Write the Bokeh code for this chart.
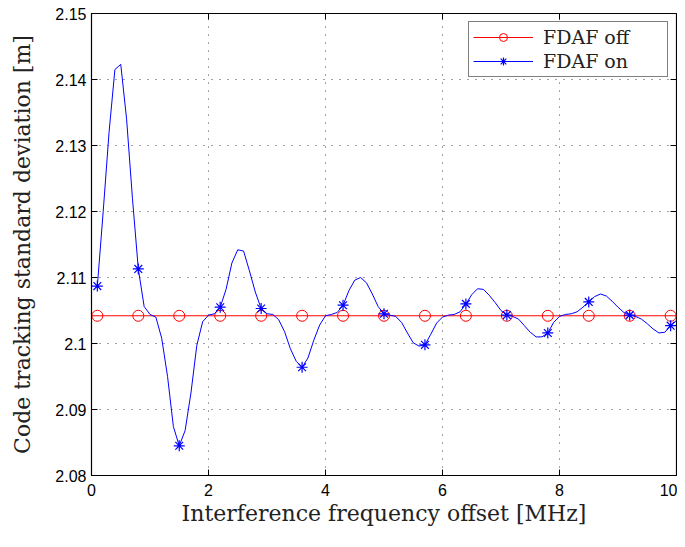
from bokeh.plotting import figure
from bokeh.models import FixedTicker, Range1d, Legend, LegendItem
from bokeh.embed import file_html
from bokeh.resources import INLINE
import math

# ---- data ----
off_freq = [0.0, 10.0]
off_val = [2.1042, 2.1042]
marker_freq = [0.1, 0.8, 1.5, 2.2, 2.9, 3.6, 4.3, 5.0, 5.7, 6.4, 7.1, 7.8, 8.5, 9.2, 9.9]
marker_off_val = [2.1042] * 15

on_freq = [0.1, 0.2, 0.3, 0.4, 0.5, 0.6, 0.7, 0.8, 0.9, 1.0,
           1.1, 1.2, 1.3, 1.4, 1.5, 1.6, 1.7, 1.8, 1.9, 2.0,
           2.1, 2.2, 2.3, 2.4, 2.5, 2.6, 2.7, 2.8, 2.9, 3.0,
           3.1, 3.2, 3.3, 3.4, 3.5, 3.6, 3.7, 3.8, 3.9, 4.0,
           4.1, 4.2, 4.3, 4.4, 4.5, 4.6, 4.7, 4.8, 4.9, 5.0,
           5.1, 5.2, 5.3, 5.4, 5.5, 5.6, 5.7, 5.8, 5.9, 6.0,
           6.1, 6.2, 6.3, 6.4, 6.5, 6.6, 6.7, 6.8, 6.9, 7.0,
           7.1, 7.2, 7.3, 7.4, 7.5, 7.6, 7.7, 7.8, 7.9, 8.0,
           8.1, 8.2, 8.3, 8.4, 8.5, 8.6, 8.7, 8.8, 8.9, 9.0,
           9.1, 9.2, 9.3, 9.4, 9.5, 9.6, 9.7, 9.8, 9.9, 10.0]
on_val = [2.1087, 2.1200, 2.1320, 2.1415, 2.1423, 2.1340, 2.1220, 2.1113, 2.1056, 2.1044,
          2.1040, 2.1008, 2.0950, 2.0874, 2.0845, 2.0868, 2.0925, 2.0997, 2.1033, 2.1043,
          2.1045, 2.1055, 2.1082, 2.1122, 2.1142, 2.1140, 2.1110, 2.1078, 2.1053, 2.1045,
          2.1044, 2.1036, 2.1018, 2.0992, 2.0973, 2.0964, 2.0978, 2.1005, 2.1028, 2.1042,
          2.1044, 2.1047, 2.1058, 2.1080, 2.1096, 2.1100, 2.1092, 2.1075, 2.1056, 2.1045,
          2.1043, 2.1041, 2.1032, 2.1016, 2.1001, 2.0996, 2.0998, 2.1014, 2.1031, 2.1040,
          2.1043, 2.1044, 2.1048, 2.1060, 2.1074, 2.1083, 2.1082, 2.1073, 2.1062, 2.1050,
          2.1043, 2.1041, 2.1037, 2.1027, 2.1017, 2.1010, 2.1010, 2.1016, 2.1032, 2.1041,
          2.1044, 2.1045, 2.1048, 2.1055, 2.1063, 2.1071, 2.1075, 2.1072, 2.1064, 2.1055,
          2.1047, 2.1043, 2.1041, 2.1037, 2.1030, 2.1022, 2.1016, 2.1017, 2.1027, 2.1035]

x_ticks = [0, 2, 4, 6, 8, 10]
x_tick_labels = ["0", "2", "4", "6", "8", "10"]
y_ticks = [2.08, 2.09, 2.1, 2.11, 2.12, 2.13, 2.14, 2.15]
y_tick_labels = ["2.08", "2.09", "2.1", "2.11", "2.12", "2.13", "2.14", "2.15"]
x_min, x_max = 0, 10
y_min, y_max = 2.08, 2.15

marker_on_val = [on_val[on_freq.index(f)] for f in marker_freq]

SERIF = "DejaVu Serif"
SANS = "Liberation Sans"

p = figure(width=677, height=531, x_range=Range1d(x_min, x_max), y_range=Range1d(y_min, y_max),
           output_backend="svg", toolbar_location=None,
           min_border_top=13, min_border_right=1, min_border_left=91, min_border_bottom=56)
p.background_fill_color = "white"
p.border_fill_color = "white"
p.outline_line_color = "black"
p.outline_line_width = 1.2

# axes
p.xaxis.ticker = FixedTicker(ticks=x_ticks)
p.yaxis.ticker = FixedTicker(ticks=y_ticks)
p.xaxis.major_label_overrides = {t: l for t, l in zip(x_ticks, x_tick_labels)}
p.yaxis.major_label_overrides = {t: l for t, l in zip(y_ticks, y_tick_labels)}
for ax in (p.xaxis[0], p.yaxis[0]):
    ax.axis_line_color = "black"
    ax.major_tick_in = 6
    ax.major_tick_out = 0
    ax.minor_tick_line_color = None
    ax.major_tick_line_color = "black"
    ax.major_label_text_font = SANS
    ax.major_label_text_font_size = "16px"
    ax.major_label_text_color = "black"
    ax.axis_label_text_font = SERIF
    ax.axis_label_text_font_size = "22px"
    ax.axis_label_text_font_style = "normal"
    ax.axis_label_text_color = "#222222"
p.xaxis.axis_label = "Interference frequency offset [MHz]"
p.yaxis.axis_label = "Code tracking standard deviation [m]"
p.xaxis.major_label_standoff = 8
p.yaxis.major_label_standoff = 5
p.xaxis.axis_label_standoff = 2
p.yaxis.axis_label_standoff = 17

# tick marks on top and right edges (inward)
p.ray(x=x_ticks, y=[y_max] * len(x_ticks), length=6, length_units="screen",
      angle=-math.pi / 2, line_color="black", line_width=1)
p.ray(x=[x_max] * len(y_ticks), y=y_ticks, length=6, length_units="screen",
      angle=math.pi, line_color="black", line_width=1)

p.xgrid.grid_line_color = "#444444"
p.ygrid.grid_line_color = "#444444"
p.xgrid.grid_line_dash = "1 7"
p.ygrid.grid_line_dash = "1 7"
p.xgrid.grid_line_width = 1
p.ygrid.grid_line_width = 1

# series
r_off_line = p.line(off_freq, off_val, line_color="red", line_width=1)
r_off_mk = p.scatter(marker_freq, marker_off_val, marker="circle", size=11,
                     fill_color=None, line_color="red", line_width=1)
r_on_line = p.line(on_freq, on_val, line_color="blue", line_width=1)
r_on_mk = p.scatter(marker_freq, marker_on_val, marker="asterisk", size=11,
                    line_color="blue", line_width=1.2)

legend = Legend(items=[LegendItem(label="FDAF off", renderers=[r_off_line, r_off_mk]),
                       LegendItem(label="FDAF on", renderers=[r_on_line, r_on_mk])],
                location="top_right")
legend.label_text_font = SERIF
legend.label_text_font_size = "19px"
legend.label_text_color = "#222222"
legend.border_line_color = "black"
legend.border_line_width = 1
legend.margin = 8
legend.padding = 4
legend.spacing = 2
legend.glyph_width = 60
legend.glyph_height = 20
legend.label_height = 20
legend.label_standoff = 10
legend.label_width = 120
p.add_layout(legend)

open("out.html", "w").write(file_html(p, INLINE))
